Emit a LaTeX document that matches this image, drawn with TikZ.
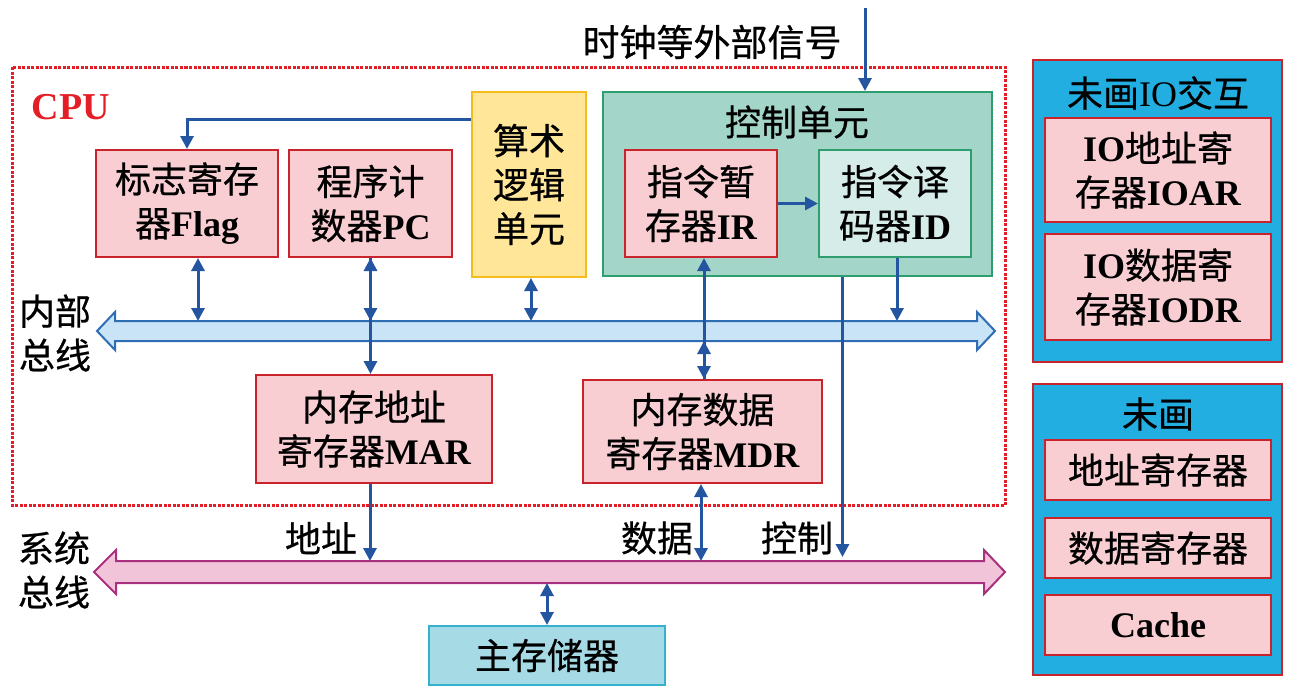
\documentclass[tikz,border=0pt]{standalone}
\usepackage{fontspec}
\setmainfont{Liberation Serif}
\newfontfamily\cjk[FakeBold=0.6]{Noto Sans CJK SC}
\usetikzlibrary{arrows.meta,calc}
\definecolor{pinkfill}{HTML}{F9CED3}
\definecolor{redline}{HTML}{C9242B}
\definecolor{alufill}{HTML}{FFE699}
\definecolor{aluline}{HTML}{F4BC1C}
\definecolor{cufill}{HTML}{A3D6C8}
\definecolor{culine}{HTML}{2E9E6E}
\definecolor{idfill}{HTML}{D6ECE9}
\definecolor{ibfill}{HTML}{C8E4F6}
\definecolor{ibline}{HTML}{2F6DB5}
\definecolor{sbfill}{HTML}{F2C4DA}
\definecolor{sbline}{HTML}{A8307E}
\definecolor{memfill}{HTML}{A6DAE5}
\definecolor{memline}{HTML}{34B1CC}
\definecolor{iofill}{HTML}{23AEE2}
\definecolor{arrblue}{HTML}{2455A0}
\definecolor{cpured}{HTML}{E41E26}
\newcommand\fz{\fontsize{36}{44}\selectfont}
\newcommand\zh[1]{{\cjk #1}}
\newcommand\lb[1]{\textbf{#1}}
\tikzset{
  regbox/.style={draw=redline, fill=pinkfill, line width=2pt, inner sep=0pt, align=center, font=\fz},
  alubox/.style={draw=aluline, fill=alufill, line width=2pt, inner sep=0pt, align=center, font=\fz},
  cubox/.style={draw=culine, fill=cufill, line width=2pt, inner sep=0pt},
  idbox/.style={draw=culine, fill=idfill, line width=2pt, inner sep=0pt, align=center, font=\fz},
  membox/.style={draw=memline, fill=memfill, line width=2pt, inner sep=0pt, align=center, font=\fz},
  iobox/.style={draw=redline, fill=iofill, line width=2pt, inner sep=0pt},
  lbl/.style={inner sep=0pt, align=center, font=\fz},
  arr/.style={draw=arrblue, line width=3pt, -{Triangle[length=13pt,width=13pt]}},
  darr/.style={draw=arrblue, line width=3pt, {Triangle[length=13pt,width=13pt]}-{Triangle[length=13pt,width=13pt]}}
}
\begin{document}
\begin{tikzpicture}[x=1pt,y=-1pt]
\useasboundingbox (0,0) rectangle (1298,697);
\fill[white] (0,0) rectangle (1298,697);

% CPU border
\draw[cpured, line width=3pt, dash pattern=on 3pt off 1.5pt] (12,67) rectangle (1005,505);
\node[inner sep=0pt, text=cpured, font=\fontsize{38}{40}\selectfont\bfseries] (cpu) at (71,107) {CPU};

% clock signal
\node[lbl, font=\fontsize{37}{44}\selectfont] (clklbl) at (712,42) {\zh{时钟等外部信号}};

% internal bus
\coordinate (ibt) at (0,321);
\coordinate (ibb) at (0,341);
\draw[draw=ibline, fill=ibfill, line width=2pt, line join=miter]
  (97,331) -- (115,312) -- (115,321) -- (977,321) -- (977,312) -- (995,331) -- (977,350) -- (977,341) -- (115,341) -- (115,350) -- cycle;
\node[lbl] (iblbl) at (55,333) {\zh{内部}\\\zh{总线}};

% system bus
\coordinate (sbt) at (0,561);
\coordinate (sbb) at (0,583);
\coordinate (ctl) at (0,557);
\draw[draw=sbline, fill=sbfill, line width=2pt, line join=miter]
  (94,572) -- (116,550) -- (116,561) -- (984,561) -- (984,550) -- (1005,572) -- (984,594) -- (984,583) -- (116,583) -- (116,594) -- cycle;
\node[lbl] (sblbl) at (54,570) {\zh{系统}\\\zh{总线}};

% CPU inner boxes
\node[regbox, minimum width=182pt, minimum height=107pt] (flag) at (187,203.5) {\zh{标志寄存}\\\zh{器}\lb{Flag}};
\node[regbox, minimum width=163pt, minimum height=107pt] (pc) at (370.5,203.5) {\zh{程序计}\\\zh{数器}\lb{PC}};
\node[alubox, minimum width=114pt, minimum height=185pt] (alu) at (529,184.5) {\zh{算术}\\\zh{逻辑}\\\zh{单元}};
\node[cubox, minimum width=389pt, minimum height=184pt] (cu) at (797.5,184) {};
\node[lbl] (cutitle) at (797,122) {\zh{控制单元}};
\node[regbox, minimum width=152pt, minimum height=107pt] (ir) at (701,203.5) {\zh{指令暂}\\\zh{存器}\lb{IR}};
\node[idbox, minimum width=152pt, minimum height=107pt] (id) at (895,203.5) {\zh{指令译}\\\zh{码器}\lb{ID}};
\node[regbox, minimum width=236pt, minimum height=108pt] (mar) at (374,429) {\zh{内存地址}\\\zh{寄存器}\lb{MAR}};
\node[regbox, minimum width=239pt, minimum height=103pt] (mdr) at (702.5,431.5) {\zh{内存数据}\\\zh{寄存器}\lb{MDR}};
\node[membox, minimum width=236pt, minimum height=59pt] (mem) at (547,655.5) {\zh{主存储器}};

% connectors inside CPU
\coordinate (clk) at (865,8);
\draw[arr] (clk) -- (clk |- cu.north);
\draw[arr] ($(alu.north west)+(0,28)$) -| (flag.north);
\draw[darr] ([xshift=11pt]flag.south) -- ([xshift=11pt]flag.south |- ibt);
\draw[darr] (pc.south) -- (pc.south |- ibt);
\draw[arr] (pc.south) -- (pc.south |- mar.north);
\draw[darr] ([xshift=2pt]alu.south) -- ([xshift=2pt]alu.south |- ibt);
\draw[arr] ([xshift=3pt]ir.south |- mdr.north) -- ([xshift=3pt]ir.south);
\draw[darr] ([xshift=3pt]ir.south |- ibb) -- ([xshift=3pt]ir.south |- mdr.north);
\draw[arr] (ir.east) -- (id.west);
\draw[arr] ([xshift=2pt]id.south) -- ([xshift=2pt]id.south |- ibt);
\draw[arr] ([xshift=45pt]cu.south) -- ([xshift=45pt]cu.south |- ctl);

% to system bus
\draw[arr] ([xshift=-4pt]mar.south) -- ([xshift=-4pt]mar.south |- sbt);
\draw[darr] ([xshift=-1.5pt]mdr.south) -- ([xshift=-1.5pt]mdr.south |- sbt);
\draw[darr] (mem.north) -- (mem.north |- sbb);
\node[lbl] (addrlbl) at (321,538) {\zh{地址}};
\node[lbl] (datalbl) at (657,538) {\zh{数据}};
\node[lbl] (ctrllbl) at (797,538) {\zh{控制}};

% right side
\node[iobox, minimum width=249pt, minimum height=302pt] (io) at (1157.5,211) {};
\node[lbl] (iotitle) at (1158,93) {\zh{未画}IO\zh{交互}};
\node[regbox, minimum width=226pt, minimum height=104pt] (ioar) at (1158,170) {\lb{IO}\zh{地址寄}\\\zh{存器}\lb{IOAR}};
\node[regbox, minimum width=226pt, minimum height=106pt] (iodr) at (1158,287) {\lb{IO}\zh{数据寄}\\\zh{存器}\lb{IODR}};
\node[iobox, minimum width=249pt, minimum height=291pt] (cache) at (1157.5,529.5) {};
\node[lbl] (ctitle) at (1158,414) {\zh{未画}};
\node[regbox, minimum width=226pt, minimum height=60pt] (ar) at (1158,470) {\zh{地址寄存器}};
\node[regbox, minimum width=226pt, minimum height=60pt] (dr) at (1158,548) {\zh{数据寄存器}};
\node[regbox, minimum width=226pt, minimum height=60pt] (cc) at (1158,625) {\lb{Cache}};
\end{tikzpicture}
\end{document}
